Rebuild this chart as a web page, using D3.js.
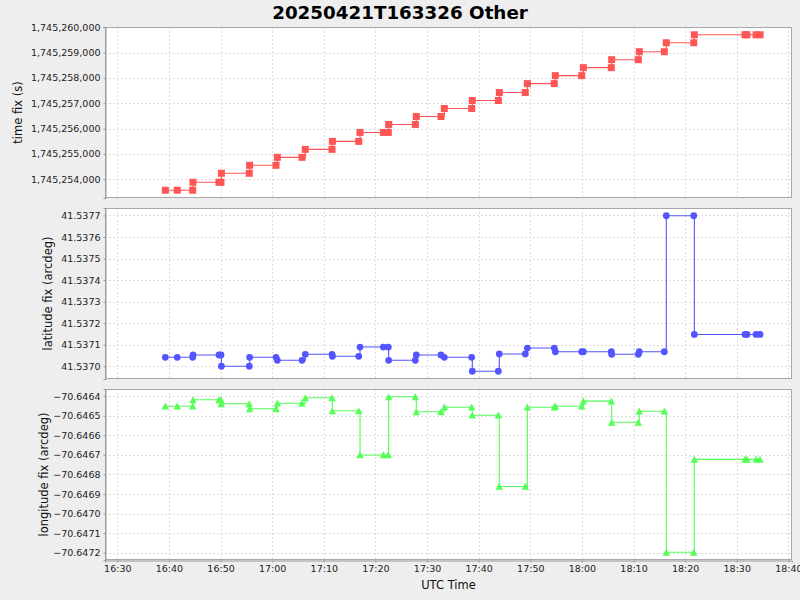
<!DOCTYPE html>
<html>
<head>
<meta charset="utf-8">
<script src="https://cdn.jsdelivr.net/npm/d3@7"></script>
<style>
html,body{margin:0;padding:0;background:#EEEEEE;}
svg{display:block;font-family:"DejaVu Sans",sans-serif;}
</style>
</head>
<body>
<svg id="chart" width="800" height="600"></svg>
<script>
// ---- data ----
const title = "20250421T163326 Other";
const day = "2025-04-21";
const times = [
  "16:39:18","16:41:37","16:44:36","16:44:40","16:49:42","16:50:05","16:50:10",
  "16:55:34","16:55:38","17:00:45","17:01:00","17:05:47","17:06:25","17:11:36",
  "17:11:40","17:16:46","17:17:01","17:21:32","17:22:30","17:22:34","17:27:44",
  "17:27:55","17:32:42","17:33:21","17:38:39","17:38:46","17:43:49","17:44:00",
  "17:49:02","17:49:26","17:54:39","17:54:51","17:59:58","18:00:17","18:05:42",
  "18:05:46","18:10:56","18:11:07","18:15:58","18:16:21","18:21:40","18:21:47",
  "18:31:36","18:31:59","18:33:44","18:34:31"
];
const timeFix = [
  1745253567,1745253567,1745253567,1745253882,1745253882,1745253882,1745254236,
  1745254236,1745254551,1745254551,1745254865,1745254865,1745255180,1745255180,
  1745255494,1745255494,1745255848,1745255848,1745255848,1745256163,1745256163,
  1745256477,1745256477,1745256792,1745256792,1745257107,1745257107,1745257421,
  1745257421,1745257775,1745257775,1745258090,1745258090,1745258404,1745258404,
  1745258719,1745258719,1745259033,1745259033,1745259387,1745259387,1745259702,
  1745259702,1745259702,1745259702,1745259702
];
const latFix = [
  41.5370416,41.5370416,41.5370416,41.5370522,41.5370522,41.5370522,41.5370000,
  41.5370000,41.5370416,41.5370416,41.5370277,41.5370277,41.5370554,41.5370554,
  41.5370462,41.5370462,41.5370891,41.5370891,41.5370891,41.5370277,41.5370277,
  41.5370522,41.5370522,41.5370416,41.5370416,41.5369769,41.5369769,41.5370568,
  41.5370568,41.5370845,41.5370845,41.5370674,41.5370674,41.5370674,41.5370674,
  41.5370554,41.5370554,41.5370674,41.5370674,41.5376985,41.5376985,41.5371477,
  41.5371477,41.5371477,41.5371477,41.5371477
];
const lonFix = [
  -70.6464513,-70.6464513,-70.6464513,-70.6464185,-70.6464185,-70.6464185,-70.6464390,
  -70.6464390,-70.6464646,-70.6464646,-70.6464359,-70.6464359,-70.6464082,-70.6464082,
  -70.6464749,-70.6464749,-70.6467005,-70.6467005,-70.6467005,-70.6464031,-70.6464031,
  -70.6464800,-70.6464800,-70.6464564,-70.6464564,-70.6464974,-70.6464974,-70.6468615,
  -70.6468615,-70.6464564,-70.6464564,-70.6464513,-70.6464513,-70.6464256,-70.6464256,
  -70.6465333,-70.6465333,-70.6464769,-70.6464769,-70.6471979,-70.6471979,-70.6467231,
  -70.6467231,-70.6467231,-70.6467231,-70.6467231
];
const xDomain = ["16:27:37","18:40:42"];
const xTicks = ["16:30","16:40","16:50","17:00","17:10","17:20","17:30","17:40","17:50","18:00","18:10","18:20","18:30","18:40"];
const timeFixTicks = [1745254000,1745255000,1745256000,1745257000,1745258000,1745259000,1745260000];
const latTicks = [41.5370,41.5371,41.5372,41.5373,41.5374,41.5375,41.5376,41.5377];
const lonTicks = [-70.6464,-70.6465,-70.6466,-70.6467,-70.6468,-70.6469,-70.6470,-70.6471,-70.6472];
const panelLabels = ["time fix (s)","latitude fix (arcdeg)","longitude fix (arcdeg)"];
const xLabel = "UTC Time";

// ---- layout ----
const svg = d3.select("#chart");
const left = 105, right = 792;
const panels = [
  {top:27, bottom:198, values: timeFix, ticks: timeFixTicks, fmt: d3.format(","), color:"#FF5555", shape:"square", label: panelLabels[0], labelX: 18},
  {top:208, bottom:379, values: latFix, ticks: latTicks, fmt: d3.format(".4f"), color:"#5555FF", shape:"circle", label: panelLabels[1], labelX: 48},
  {top:389, bottom:560, values: lonFix, ticks: lonTicks, fmt: d3.format(".4f"), color:"#55FF55", shape:"triangle", label: panelLabels[2], labelX: 44}
];
const parseT = s => new Date(day + "T" + (s.length === 5 ? s + ":00" : s) + "Z");
const x = d3.scaleUtc().domain(xDomain.map(parseT)).range([left, right]);
const tickDates = xTicks.map(parseT);

svg.append("text").attr("x", 400).attr("y", 18.5).attr("text-anchor","middle")
  .attr("font-size", 18.3).attr("font-weight","bold").attr("fill","#000").text(title);

const shapes = {
  square: "M-3.5,-3.5H3.5V3.5H-3.5Z",
  circle: "M3.4,0A3.4,3.4 0 1,1 -3.4,0A3.4,3.4 0 1,1 3.4,0Z",
  triangle: "M0,-3.6L3.7,3.4L-3.7,3.4Z"
};

panels.forEach((p, i) => {
  const ext = d3.extent(p.values);
  const m = (ext[1] - ext[0]) * 0.05;
  const y = d3.scaleLinear().domain([ext[0] - m, ext[1] + m]).range([p.bottom, p.top]);
  const g = svg.append("g");
  g.append("rect").attr("x", left).attr("y", p.top).attr("width", right-left).attr("height", p.bottom-p.top).attr("fill","#fff");
  // grid
  g.append("g").selectAll("line").data(tickDates).join("line")
    .attr("x1", d => Math.round(x(d)) + 0.5).attr("x2", d => Math.round(x(d)) + 0.5)
    .attr("y1", p.top).attr("y2", p.bottom)
    .attr("stroke","#dcdcdc").attr("stroke-dasharray","2,2");
  g.append("g").selectAll("line").data(p.ticks).join("line")
    .attr("x1", left).attr("x2", right)
    .attr("y1", d => Math.round(y(d)) + 0.5).attr("y2", d => Math.round(y(d)) + 0.5)
    .attr("stroke","#dcdcdc").attr("stroke-dasharray","2,2");
  // clip
  const cid = "clip" + i;
  svg.append("clipPath").attr("id", cid).append("rect")
    .attr("x", left).attr("y", p.top - 4).attr("width", right-left).attr("height", p.bottom-p.top+8);
  const data = times.map((t, k) => ({t: parseT(t), v: p.values[k]}));
  const line = d3.line().x(d => x(d.t)).y(d => y(d.v)).curve(d3.curveStepAfter);
  const pg = g.append("g").attr("clip-path", `url(#${cid})`);
  pg.append("path").datum(data).attr("d", line).attr("fill","none").attr("stroke", p.color).attr("stroke-width", 1.1);
  pg.selectAll("path.m").data(data).join("path").attr("class","m")
    .attr("transform", d => `translate(${x(d.t)},${y(d.v)})`)
    .attr("d", shapes[p.shape]).attr("fill", p.color);
  // outline
  g.append("rect").attr("x", left + 0.5).attr("y", p.top + 0.5).attr("width", right-left-1).attr("height", p.bottom-p.top-1)
    .attr("fill","none").attr("stroke","#a8a8a8");
  // y axis
  const ya = d3.axisLeft(y).tickValues(p.ticks).tickFormat(p.fmt).tickSize(2).tickPadding(3);
  const ag = svg.append("g").attr("transform", `translate(${left + 0.5},0)`).call(ya);
  ag.select(".domain").attr("stroke","#999");
  ag.selectAll(".tick line").attr("stroke","#999");
  ag.selectAll(".tick text").attr("font-size", 9.5).attr("fill","#222").attr("font-family","DejaVu Sans");
  // axis label
  svg.append("text").attr("transform", `translate(${p.labelX},${(p.top+p.bottom)/2}) rotate(-90)`)
    .attr("text-anchor","middle").attr("dy","0.36em").attr("font-size", 11.5).attr("fill","#111").text(p.label);
});

// x axis
const xa = d3.axisBottom(x).tickValues(tickDates).tickFormat(d3.utcFormat("%H:%M")).tickSize(2).tickPadding(3);
const xg = svg.append("g").attr("transform", `translate(0,${560.5})`).call(xa);
xg.select(".domain").attr("stroke","#999");
xg.selectAll(".tick line").attr("stroke","#999");
xg.selectAll(".tick text").attr("font-size", 9.5).attr("fill","#222").attr("font-family","DejaVu Sans");
svg.append("text").attr("x", (left+right)/2).attr("y", 589).attr("text-anchor","middle")
  .attr("font-size", 11.5).attr("fill","#111").text(xLabel);
</script>
</body>
</html>
